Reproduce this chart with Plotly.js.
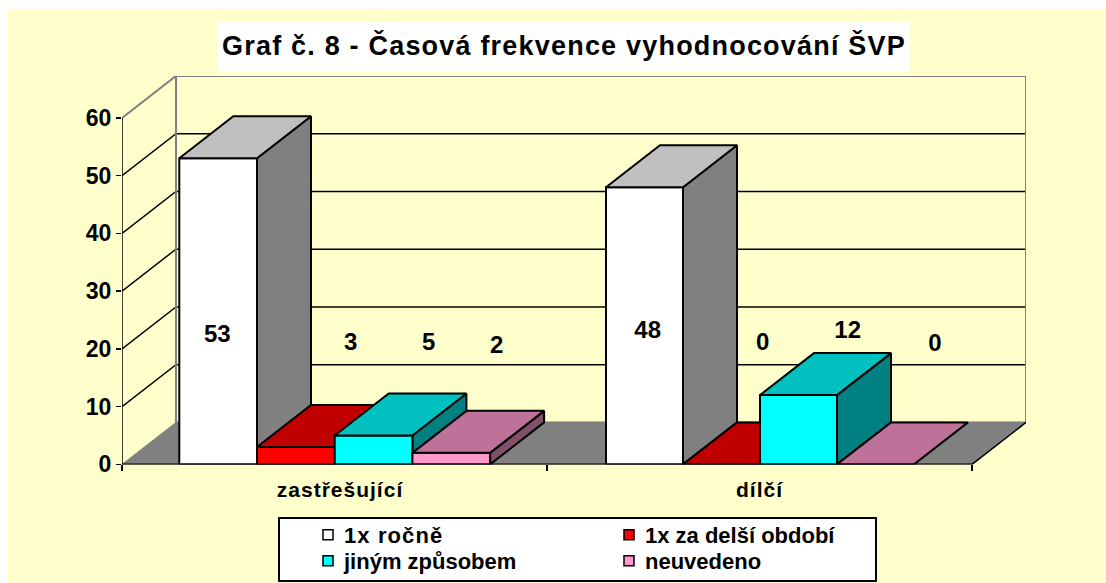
<!DOCTYPE html>
<html><head><meta charset="utf-8">
<script src="https://cdn.plot.ly/plotly-3.0.1.min.js"></script>
<style>
html,body{margin:0;padding:0;background:#fff;}
#chart{width:1106px;height:583px;}
.gtitle{letter-spacing:1.2px;}
.xtick text{letter-spacing:1px;}
.legendtext{letter-spacing:1.1px;}
.legendsymbols{transform:translateX(4px);}
</style></head>
<body><div id="chart"></div>
<script>
// --- data ---
const categories = ["zastřešující", "dílčí"];
const seriesNames = ["1x ročně", "1x za delší období", "jiným způsobem", "neuvedeno"];
const rocne = [53, 48];
const delsi = [3, 0];
const jinym = [5, 12];
const neuvedeno = [2, 0];
const yTicks = [0, 10, 20, 30, 40, 50, 60];
const chartTitle = "Graf č. 8 - Časová frekvence vyhodnocování ŠVP";

// --- styling / geometry ---
const W = 1106, H = 583;
const PX_PER_UNIT = 5.775;
const L = 122, R = 1026, B = 464.4, T = B - 60 * PX_PER_UNIT - 42;  // plot box in page pixels
const FRONT_W = 425;                              // px per category
const depthX = 54 / FRONT_W, depthY = 42 / PX_PER_UNIT;
const barWs = [77.7 / FRONT_W, 77 / FRONT_W], gaps = [57.3 / FRONT_W, 59 / FRONT_W];
const font = "Liberation Sans, Arial, sans-serif";
const faces = [
  {front: "#FFFFFF", top: "#C0C0C0", side: "#808080"},
  {front: "#FF0000", top: "#C00000", side: "#800000"},
  {front: "#00FFFF", top: "#00C0C0", side: "#008080"},
  {front: "#FF99CC", top: "#BF7299", side: "#80506A"}
];
const allSeries = [rocne, delsi, jinym, neuvedeno];
const labelOffsetPx = [[-0.8, 54.85, 55.15, 45.45], [3.2, 41.2, 49.2, 59.5]];
const labelHeight = [[22.25, 20.85, 20.85, 20.25], [22.95, 20.85, 22.95, 20.65]];

const traces = [];
function poly(xs, ys, fill, lineColor, lw) {
  traces.push({type: "scatter", mode: "lines", x: xs, y: ys, fill: fill ? "toself" : "none",
    fillcolor: fill || undefined, line: {color: lineColor, width: lw}, hoverinfo: "skip",
    showlegend: false, cliponaxis: false});
}
const xEnd = categories.length, yMax = yTicks[yTicks.length - 1];
// walls
poly([depthX, xEnd + depthX, xEnd + depthX, depthX, depthX],
     [depthY, depthY, yMax + depthY, yMax + depthY, depthY], "#FFFFCC", "#808080", 2);
// gridlines on side and back wall
yTicks.forEach(v => {
  if (v === 0) return;
  const c = v === yMax ? "#808080" : "#000000";
  poly([0, depthX, xEnd + depthX], [v, v + depthY, v + depthY], null, c, v === yMax ? 2 : 1.5);
});
poly([depthX, depthX], [depthY, yMax + depthY], null, "#808080", 2);
poly([xEnd + depthX, xEnd + depthX], [depthY, yMax + depthY], null, "#808080", 2);
// floor
poly([0, xEnd, xEnd + depthX, depthX, 0], [0, 0, depthY, depthY, 0], "#808080", "#808080", 1);
poly([xEnd, xEnd + depthX], [0, depthY], null, "#000000", 1.5);
// bars
categories.forEach((cat, c) => {
  allSeries.forEach((vals, s) => {
    const v = vals[c], x0 = c + gaps[c] + s * barWs[c], x1 = x0 + barWs[c], f = faces[s];
    if (v > 0) {
      poly([x1, x1 + depthX, x1 + depthX, x1, x1], [0, depthY, v + depthY, v, 0], f.side, "#000", 2);
      poly([x0, x1, x1, x0, x0], [0, 0, v, v, 0], f.front, "#000", 2);
    }
    poly([x0, x1, x1 + depthX, x0 + depthX, x0], [v, v, v + depthY, v + depthY, v], f.top, "#000", 2);
  });
});
// axis lines
poly([0, 0], [0, yMax], null, "#000000", 1.5);
poly([0, xEnd], [0, 0], null, "#000000", 2);
// value labels
const lx = [], ly = [], lt = [];
categories.forEach((cat, c) => allSeries.forEach((vals, s) => {
  lx.push(c + gaps[c] + (s + 0.5) * barWs[c] + labelOffsetPx[c][s] / FRONT_W);
  ly.push(labelHeight[c][s]);
  lt.push(String(vals[c]));
}));
traces.push({type: "scatter", mode: "text", x: lx, y: ly, text: lt, textposition: "middle center",
  textfont: {family: font, size: 24, color: "#000", weight: 700}, hoverinfo: "skip", showlegend: false, cliponaxis: false});
// legend entries
const legendIds = ["legend", "legend2", "legend3", "legend4"];
seriesNames.forEach((n, s) => traces.push({type: "scatter", mode: "markers", x: [null], y: [null], name: n,
  legend: legendIds[s], marker: {symbol: "square", size: 10, color: faces[s].front, line: {color: "#000", width: 1.5}}}));

const px = v => v / W, py = v => 1 - v / H;
const legendPos = [[304, 535], [605, 535], [304, 561], [605, 561]];
const layout = {
  width: W, height: H, autosize: false,
  margin: {l: 0, r: 0, t: 0, b: 0, pad: 0},
  paper_bgcolor: "#FFFFCC", plot_bgcolor: "rgba(0,0,0,0)",
  font: {family: font, color: "#000"},
  title: {text: chartTitle, font: {family: font, size: 27, weight: 700, color: "#000"},
    x: 564 / W, xanchor: "center", y: 1 - 46 / H, yanchor: "middle", xref: "container", yref: "container"},
  xaxis: {domain: [L / W, R / W], range: [0, xEnd + depthX], tickmode: "array", tickvals: [0.513, 1.5], ticktext: categories,
    ticks: "", showgrid: false, zeroline: false, showline: false, ticklen: 0, ticklabelstandoff: 11,
    tickfont: {family: font, size: 21, weight: 700, color: "#000"},
    minor: {tickmode: "array", tickvals: [0, 1, 2], ticks: "outside", ticklen: 6, tickwidth: 1.5, tickcolor: "#000", showgrid: false}},
  yaxis: {domain: [1 - B / H, 1 - T / H], range: [0, yMax + depthY], tickmode: "array", tickvals: yTicks, ticks: "outside", ticklen: 5, tickwidth: 1.5,
    tickcolor: "#000", showgrid: false, zeroline: false, showline: false,
    tickfont: {family: font, size: 23, weight: 700, color: "#000"}},
  shapes: [
    {type: "rect", xref: "paper", yref: "paper", x0: px(0), x1: px(W), y0: py(0), y1: py(9), fillcolor: "#fff", line: {width: 0}, layer: "below"},
    {type: "rect", xref: "paper", yref: "paper", x0: px(0), x1: px(8), y0: py(0), y1: py(H), fillcolor: "#fff", line: {width: 0}, layer: "below"},
    {type: "rect", xref: "paper", yref: "paper", x0: px(218), x1: px(909), y0: py(22), y1: py(71), fillcolor: "#fff", line: {width: 0}, layer: "below"},
    {type: "rect", xref: "paper", yref: "paper", x0: px(279), x1: px(876), y0: py(518), y1: py(581), fillcolor: "#fff", line: {color: "#000", width: 2}, layer: "below"}
  ],
  hovermode: false, showlegend: true
};
legendIds.forEach((id, i) => {
  layout[id] = {x: px(legendPos[i][0]), y: py(legendPos[i][1]), xref: "paper", yref: "paper",
    xanchor: "left", yanchor: "middle", bgcolor: "rgba(0,0,0,0)", borderwidth: 0,
    font: {family: font, size: 22, weight: 700, color: "#000"}};
});
Plotly.newPlot("chart", traces, layout, {displayModeBar: false, staticPlot: true});
</script></body></html>
